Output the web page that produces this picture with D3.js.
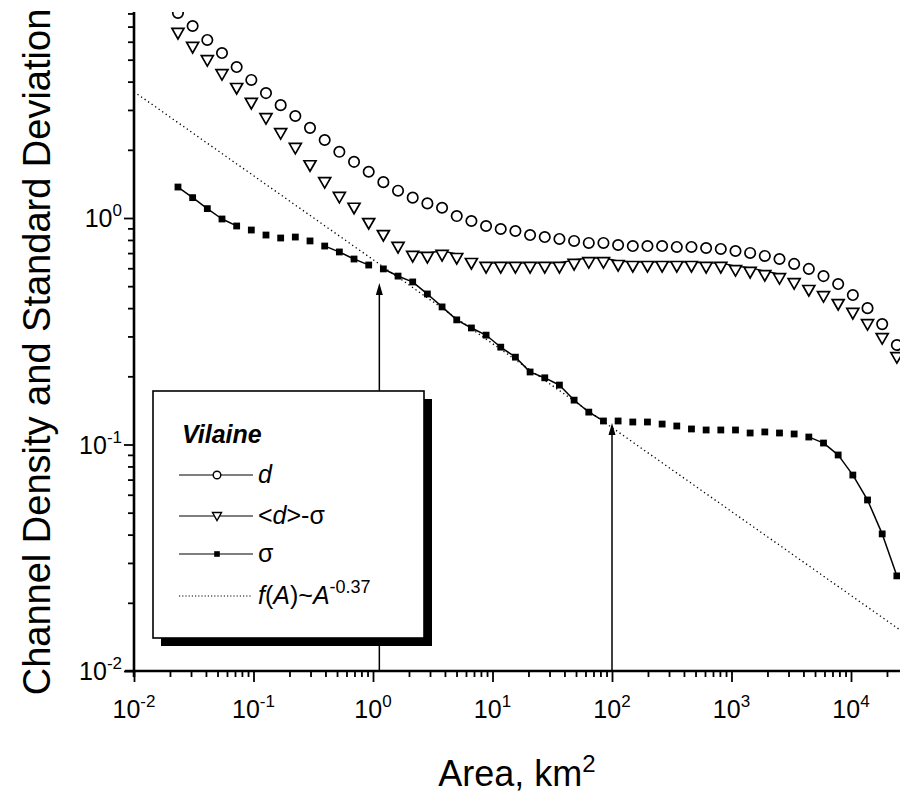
<!DOCTYPE html>
<html><head><meta charset="utf-8">
<script src="https://cdn.jsdelivr.net/npm/d3@7"></script>
<style>
body{margin:0;background:#fff}
svg{display:block}
text{font-family:"Liberation Sans",Arial,Helvetica,sans-serif;fill:#000}
</style>
</head><body>
<svg id="c" width="900" height="797"></svg>
<script>
// ---------------- data ----------------
const area = [0.02333,0.03095,0.04107,0.05449,0.07229,0.0959,0.1272,0.1688,0.2239,0.2971,
  0.3942,0.523,0.6939,0.9205,1.221,1.62,2.149,2.852,3.784,5.02,
  6.66,8.836,11.72,15.55,20.63,27.37,36.31,48.18,63.92,84.8,
  112.5,149.3,198.0,262.7,348.5,462.4,613.4,813.8,1080,1432,
  1900,2521,3344,4437,5887,7810,10360,13750,18240,24200];
const density = [8.04,7.04,6.11,5.35,4.64,4.07,3.56,3.15,2.82,2.50,
  2.21,1.96,1.77,1.60,1.44,1.32,1.23,1.16,1.11,1.02,
  0.970,0.922,0.894,0.876,0.841,0.824,0.808,0.792,0.776,0.776,
  0.760,0.752,0.752,0.752,0.745,0.745,0.737,0.730,0.715,0.701,
  0.680,0.659,0.627,0.596,0.554,0.511,0.457,0.400,0.340,0.275];
const meanMinusSigma = [6.56,5.69,4.98,4.32,3.75,3.22,2.76,2.37,2.04,1.71,
  1.44,1.24,1.11,0.950,0.841,0.745,0.680,0.673,0.687,0.666,
  0.633,0.608,0.608,0.608,0.608,0.608,0.608,0.627,0.639,0.639,
  0.620,0.614,0.614,0.614,0.614,0.614,0.608,0.608,0.589,0.578,
  0.560,0.543,0.516,0.481,0.452,0.417,0.381,0.340,0.295,0.243];
const sigma = [1.37,1.23,1.10,0.990,0.922,0.885,0.841,0.816,0.824,0.792,
  0.752,0.708,0.659,0.620,0.596,0.554,0.522,0.462,0.405,0.355,
  0.327,0.304,0.269,0.243,0.209,0.197,0.183,0.157,0.139,0.127,
  0.127,0.1257,0.1257,0.1231,0.1207,0.1171,0.1159,0.1159,0.1159,0.1124,
  0.1136,0.1124,0.1113,0.1079,0.1015,0.0899,0.0733,0.0569,0.0403,0.0263];
const fitArea = [0.01, 25200];
const fitValue = [3.61, 0.0153];
const arrowArea = [1.13, 100];
const arrowTip = [0.516, 0.1244];
const xTickValues = [0.01, 0.1, 1, 10, 100, 1000, 10000];
const xTickExp = ["-2", "-1", "0", "1", "2", "3", "4"];
const yTickValues = [0.01, 0.1, 1];
const yTickExp = ["-2", "-1", "0"];
const xDomain = [0.01, 25200];
const yDomain = [0.01, 8.12];
const legendTitle = "Vilaine";
const xTitle = "Area, km";
const yTitle = "Channel Density and Standard Deviation";

// ---------------- layout ----------------
const X0 = 134, XDEC = 119.5, Y0 = 671, YDEC = 226.5;
const svg = d3.select("#c");
const x = d3.scaleLog().domain(xDomain).range([X0, X0 + XDEC * Math.log10(xDomain[1] / xDomain[0])]);
const y = d3.scaleLog().domain(yDomain).range([Y0, Y0 - YDEC * Math.log10(yDomain[1] / yDomain[0])]);

function minors(lo, hi) {
  const out = [];
  for (let e = Math.floor(Math.log10(lo)); e <= Math.ceil(Math.log10(hi)); e++)
    for (let k = 2; k <= 9; k++) { const v = k * Math.pow(10, e); if (v >= lo && v <= hi) out.push(v); }
  return out;
}

svg.append("defs").append("clipPath").attr("id", "plot")
  .append("rect").attr("x", X0).attr("y", y.range()[1]).attr("width", 900 - X0).attr("height", Y0 - y.range()[1]);

// ---------------- axes ----------------
const gx = svg.append("g").attr("transform", `translate(0,${Y0})`);
gx.append("g").call(d3.axisBottom(x).tickValues(minors(xDomain[0], xDomain[1])).tickSize(6).tickFormat(""));
gx.append("g").call(d3.axisBottom(x).tickValues(xTickValues).tickSize(11).tickFormat(""));
gx.selectAll(".domain").remove();
gx.selectAll("line").attr("stroke", "#000").attr("stroke-width", 1.8);
gx.append("line").attr("x1", X0 - 9).attr("x2", 900).attr("y1", 0).attr("y2", 0)
  .attr("stroke", "#000").attr("stroke-width", 2.6);

const gy = svg.append("g").attr("transform", `translate(${X0},0)`);
gy.append("g").call(d3.axisLeft(y).tickValues(minors(yDomain[0], yDomain[1])).tickSize(6).tickFormat(""));
gy.append("g").call(d3.axisLeft(y).tickValues(yTickValues).tickSize(10).tickFormat(""));
gy.selectAll(".domain").remove();
gy.selectAll("line").attr("stroke", "#000").attr("stroke-width", 1.8);
gy.append("line").attr("x1", 0).attr("x2", 0).attr("y1", y.range()[1]).attr("y2", Y0 + 6)
  .attr("stroke", "#000").attr("stroke-width", 2.6);

// tick labels with superscript
xTickValues.forEach((v, i) => {
  const t = svg.append("text").attr("x", x(v)).attr("y", Y0 + 47)
    .attr("text-anchor", "middle").style("font-size", "25px");
  t.append("tspan").text("10");
  t.append("tspan").attr("dy", -11).style("font-size", "17px").text(xTickExp[i]);
});
yTickValues.forEach((v, i) => {
  const t = svg.append("text").attr("x", X0 - 12).attr("y", y(v) + 9)
    .attr("text-anchor", "end").style("font-size", "25px");
  t.append("tspan").text("10");
  t.append("tspan").attr("dy", -11).style("font-size", "17px").text(yTickExp[i]);
});

// axis titles
const xt = svg.append("text").attr("x", 517).attr("y", 786).attr("text-anchor", "middle").style("font-size", "36px");
xt.append("tspan").text(xTitle);
xt.append("tspan").attr("dy", -14).style("font-size", "24px").text("2");
svg.append("text").attr("transform", "translate(50,352) rotate(-90)").attr("text-anchor", "middle")
  .style("font-size", "38px").text(yTitle);

// ---------------- data marks ----------------
const plot = svg.append("g").attr("clip-path", "url(#plot)");

plot.append("path")
  .attr("d", d3.line().x(d => x(d[0])).y(d => y(d[1]))(fitArea.map((a, i) => [a, fitValue[i]])))
  .attr("fill", "none").attr("stroke", "#000").attr("stroke-width", 1.3).attr("stroke-dasharray", "1.3,3");

arrowArea.forEach((a, i) => {
  const ax = x(a), tip = y(arrowTip[i]);
  svg.append("line").attr("x1", ax).attr("x2", ax).attr("y1", Y0).attr("y2", tip + 8)
    .attr("stroke", "#000").attr("stroke-width", 1.5);
  svg.append("path").attr("d", `M${ax},${tip} L${ax - 3.5},${tip + 12} L${ax + 3.5},${tip + 12} Z`).attr("fill", "#000");
});

function gappedSegments(vals, gap, test) {
  const segs = [];
  for (let i = 0; i < vals.length - 1; i++) {
    const x1 = x(area[i]), y1 = y(vals[i]), x2 = x(area[i + 1]), y2 = y(vals[i + 1]);
    const L = Math.hypot(x2 - x1, y2 - y1);
    if (!test(L, y2 - y1)) continue;
    const ux = (x2 - x1) / L, uy = (y2 - y1) / L;
    segs.push([x1 + ux * gap, y1 + uy * gap, x2 - ux * gap, y2 - uy * gap]);
  }
  return segs;
}
plot.selectAll(".sseg").data(gappedSegments(sigma, 3, (L) => L > 15.7)).join("line")
  .attr("x1", d => d[0]).attr("y1", d => d[1]).attr("x2", d => d[2]).attr("y2", d => d[3])
  .attr("stroke", "#000").attr("stroke-width", 1.5);

plot.selectAll(".tseg").data(gappedSegments(meanMinusSigma, 0, (L, dy) => Math.abs(dy) <= 3.2)).join("line")
  .attr("x1", d => d[0]).attr("y1", d => d[1] - 4).attr("x2", d => d[2]).attr("y2", d => d[3] - 4)
  .attr("stroke", "#000").attr("stroke-width", 1.4);

plot.selectAll(".circ").data(area.map((a, i) => [a, density[i]])).join("circle")
  .attr("cx", d => x(d[0])).attr("cy", d => y(d[1])).attr("r", 5.2)
  .attr("fill", "#fff").attr("stroke", "#000").attr("stroke-width", 1.7);

const tri = "M-6,-4.5 L6,-4.5 L0,6 Z";
plot.selectAll(".tri").data(area.map((a, i) => [a, meanMinusSigma[i]])).join("path")
  .attr("d", tri).attr("transform", d => `translate(${x(d[0])},${y(d[1])})`)
  .attr("fill", "#fff").attr("stroke", "#000").attr("stroke-width", 1.7);

plot.selectAll(".sq").data(area.map((a, i) => [a, sigma[i]])).join("rect")
  .attr("x", d => x(d[0]) - 3.4).attr("y", d => y(d[1]) - 3.4).attr("width", 6.8).attr("height", 6.8)
  .attr("fill", "#000");

// ---------------- legend ----------------
const LX = 153, LY = 391, LW = 271, LH = 247;
svg.append("rect").attr("x", LX + 8).attr("y", LY + 8).attr("width", LW).attr("height", LH).attr("fill", "#000");
svg.append("rect").attr("x", LX).attr("y", LY).attr("width", LW).attr("height", LH)
  .attr("fill", "#fff").attr("stroke", "#000").attr("stroke-width", 1.6);
svg.append("text").attr("x", 182).attr("y", 443).style("font-size", "25px")
  .style("font-weight", "bold").style("font-style", "italic").text(legendTitle);

const rows = [475, 516, 554, 596];
const lx1 = 179, lx2 = 253, mx = 217, tx = 258, fs = "25px";
svg.append("line").attr("x1", lx1).attr("x2", lx2).attr("y1", rows[0]).attr("y2", rows[0]).attr("stroke", "#000").attr("stroke-width", 1.2);
svg.append("circle").attr("cx", mx).attr("cy", rows[0]).attr("r", 3.8).attr("fill", "#fff").attr("stroke", "#000").attr("stroke-width", 1.4);
svg.append("text").attr("x", tx).attr("y", rows[0] + 8).style("font-size", fs).style("font-style", "italic").text("d");

svg.append("line").attr("x1", lx1).attr("x2", lx2).attr("y1", rows[1]).attr("y2", rows[1]).attr("stroke", "#000").attr("stroke-width", 1.2);
svg.append("path").attr("d", "M-4.5,-3.5 L4.5,-3.5 L0,4.5 Z").attr("transform", `translate(${mx},${rows[1]})`)
  .attr("fill", "#fff").attr("stroke", "#000").attr("stroke-width", 1.4);
const t2 = svg.append("text").attr("x", tx).attr("y", rows[1] + 8).style("font-size", fs);
t2.append("tspan").text("<");
t2.append("tspan").style("font-style", "italic").text("d");
t2.append("tspan").text(">-σ");

svg.append("line").attr("x1", lx1).attr("x2", lx2).attr("y1", rows[2]).attr("y2", rows[2]).attr("stroke", "#000").attr("stroke-width", 1.2);
svg.append("rect").attr("x", mx - 2.8).attr("y", rows[2] - 2.8).attr("width", 5.6).attr("height", 5.6).attr("fill", "#000");
svg.append("text").attr("x", tx).attr("y", rows[2] + 8).style("font-size", fs).text("σ");

svg.append("line").attr("x1", lx1).attr("x2", lx2 - 2).attr("y1", rows[3]).attr("y2", rows[3])
  .attr("stroke", "#000").attr("stroke-width", 1.1).attr("stroke-dasharray", "1.2,2");
const t4 = svg.append("text").attr("x", tx).attr("y", rows[3] + 8).style("font-size", fs);
t4.append("tspan").style("font-style", "italic").text("f");
t4.append("tspan").text("(");
t4.append("tspan").style("font-style", "italic").text("A");
t4.append("tspan").text(")~");
t4.append("tspan").style("font-style", "italic").text("A");
t4.append("tspan").attr("dy", -11).style("font-size", "18px").text("-0.37");
</script>
</body></html>
